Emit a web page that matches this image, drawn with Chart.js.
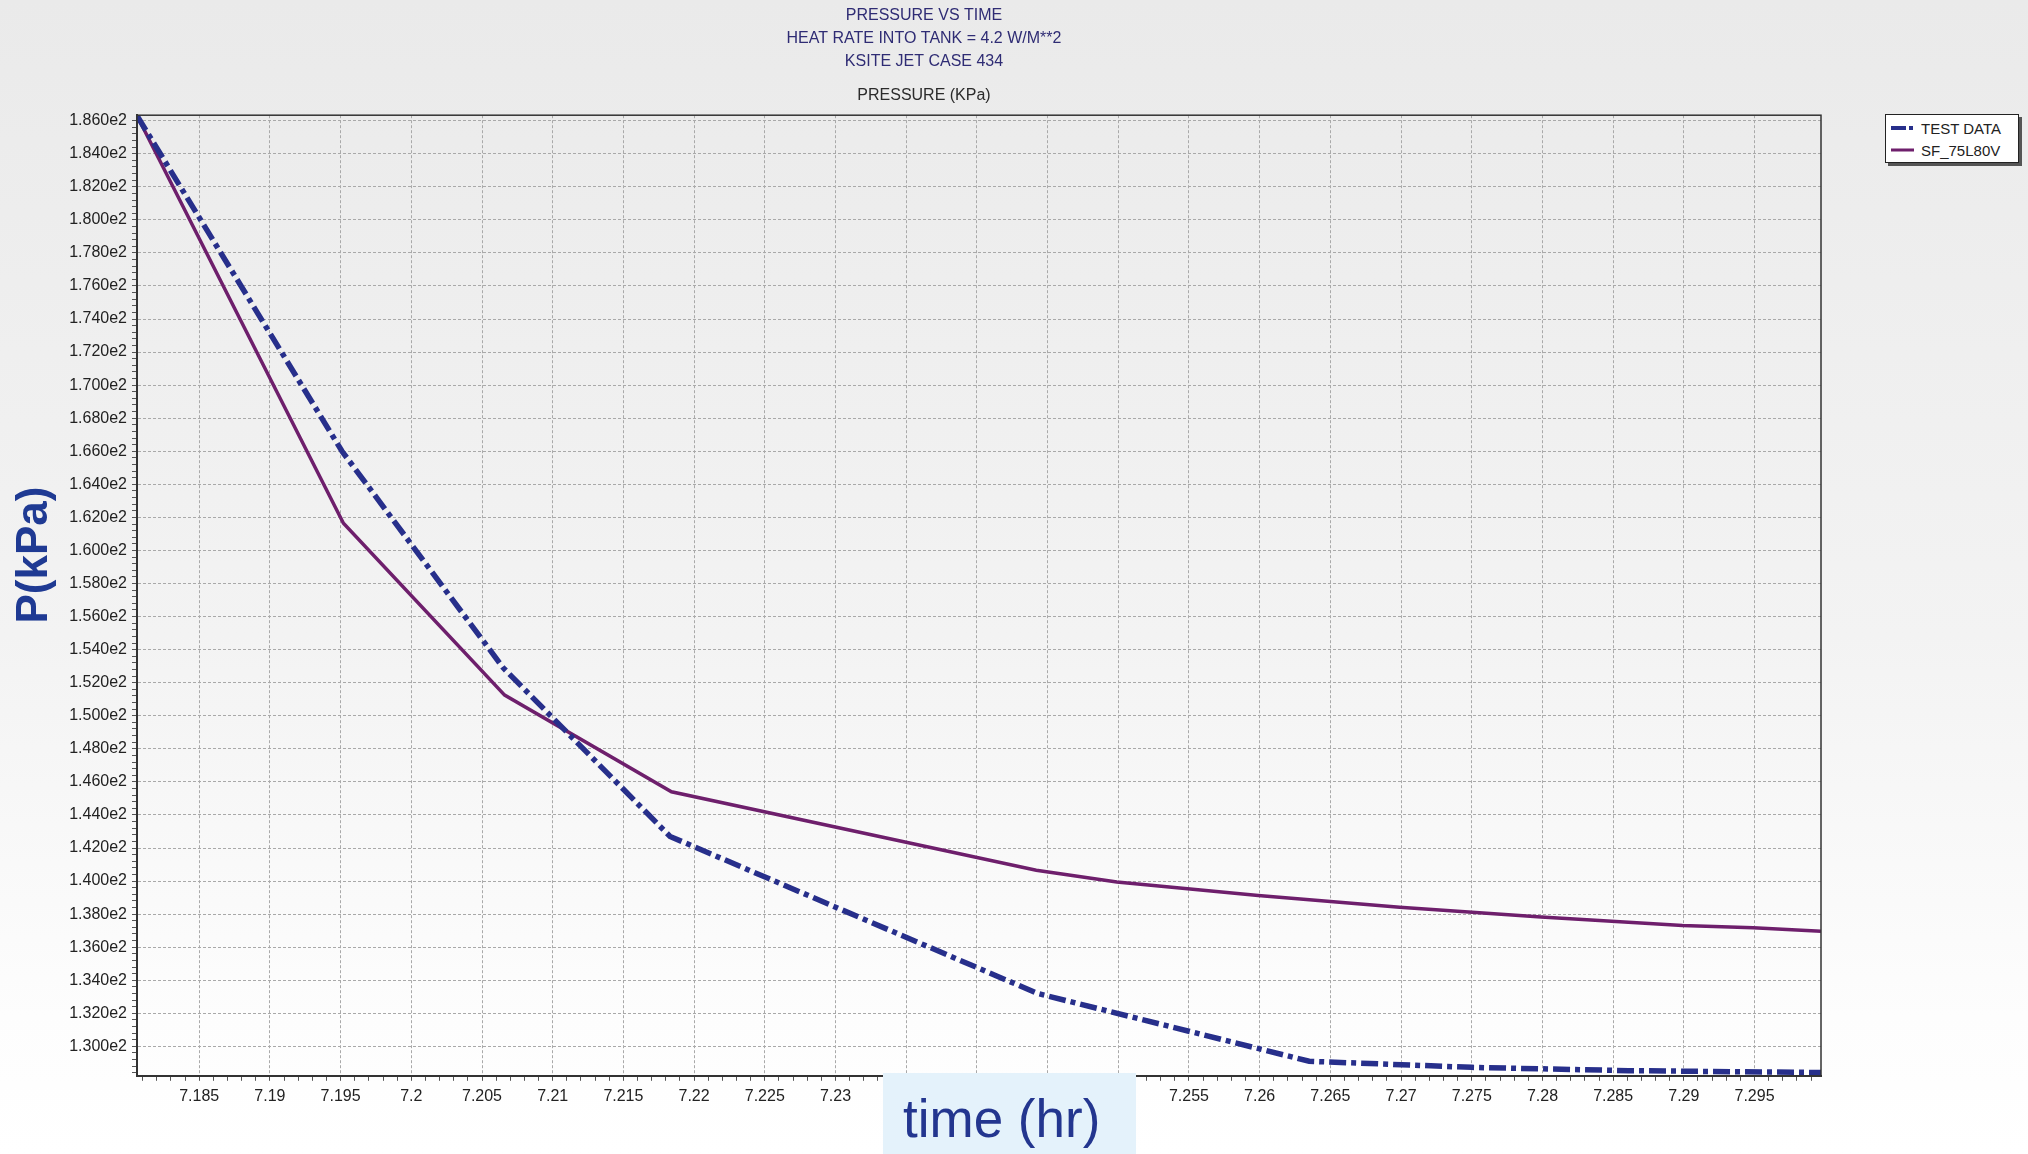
<!DOCTYPE html>
<html>
<head>
<meta charset="utf-8">
<script src="https://cdn.jsdelivr.net/npm/chart.js@4.4.0/dist/chart.umd.min.js"></script>
<style>
  html, body { margin: 0; padding: 0; }
  body {
    width: 2028px; height: 1154px; overflow: hidden; position: relative;
    background: linear-gradient(to bottom, #eaeaea 0%, #f3f3f3 55%, #fdfdfd 88%, #ffffff 100%);
  }
  #wrap { position: absolute; left: 27px; top: 0; width: 1818px; height: 1154px; }
  #legend {
    position: absolute; left: 1885px; top: 114px; width: 134px; height: 49px;
    background: #fff; border: 1px solid #222; box-shadow: 3px 3px 0 #555;
    font: 15px "Liberation Sans", Arial, sans-serif; color: #222; box-sizing: border-box;
    padding: 2px 0 0 5px;
  }
  #legend .row { height: 22px; display: flex; align-items: center; }
  #legend svg { margin-right: 6px; }
  #xlabel {
    position: absolute; left: 883px; top: 1073px; width: 253px; height: 81px;
    background: #e4f2fb; color: #23368f;
    font: 53px "Liberation Sans", Arial, sans-serif;
  }
  #xlabel span { position: absolute; left: 20px; top: 15px; }
  #ylabel {
    position: absolute; left: -63px; top: 525px; width: 200px; height: 60px;
    transform: rotate(-90deg); text-align: center; line-height: 60px;
    color: #1f3a93; font: bold 44px "Liberation Sans", Arial, sans-serif;
  }
</style>
</head>
<body>
<div id="wrap"><canvas id="myChart"></canvas></div>
<div id="legend">
  <div class="row"><svg width="24" height="8"><rect x="0" y="2" width="15" height="4" fill="#272f8b"/><rect x="18" y="2" width="4" height="4" fill="#272f8b"/></svg>TEST DATA</div>
  <div class="row"><svg width="24" height="8"><rect x="0" y="2.5" width="23" height="3" fill="#6e1f6c"/></svg>SF_75L80V</div>
</div>
<div id="xlabel"><span>time (hr)</span></div>
<div id="ylabel">P(kPa)</div>
<script>
// titles
const titleLines = ['PRESSURE VS TIME', 'HEAT RATE INTO TANK = 4.2 W/M**2', 'KSITE JET CASE 434'];
const subTitle = 'PRESSURE (KPa)';

// test data (time hr, pressure kPa)
const testTime = [7.1806, 7.1951, 7.2065, 7.2183, 7.2443, 7.2635, 7.2750, 7.2861, 7.2997];
const testPressure = [186.3, 166.0, 152.9, 142.7, 133.2, 129.1, 128.73, 128.53, 128.42];

// model SF_75L80V
const sfTime = [7.1806, 7.1952, 7.2066, 7.2184, 7.2442, 7.2499, 7.2599, 7.2699, 7.2799, 7.2899, 7.2949, 7.2997];
const sfPressure = [186.3, 161.65, 151.25, 145.4, 140.65, 139.94, 139.13, 138.42, 137.82, 137.31, 137.17, 136.97];

// axis ranges
const xMin = 7.1806, xMax = 7.2997;
const yMin = 128.22, yMax = 186.33;

const toPoints = (xs, ys) => xs.map((x, i) => ({ x: x, y: ys[i] }));

const isMult = (v, step) => Math.abs(v / step - Math.round(v / step)) < 1e-6;

// full box round the plot
const frame = {
  id: 'frame',
  afterDraw(chart) {
    const a = chart.chartArea, c = chart.ctx;
    c.save();
    c.strokeStyle = '#333';
    c.lineWidth = 1.5;
    c.strokeRect(a.left, a.top, a.right - a.left, a.bottom - a.top);
    c.restore();
  }
};

const tickFont = { family: 'Liberation Sans', size: 16 };
const titleFont = { family: 'Liberation Sans', size: 16, weight: 'normal' };

new Chart('myChart', {
  type: 'line',
  data: {
    datasets: [
      {
        label: 'TEST DATA',
        data: toPoints(testTime, testPressure),
        borderColor: '#272f8b',
        backgroundColor: '#272f8b',
        borderWidth: 5.5,
        borderDash: [17, 5, 5, 5],
        pointRadius: 0,
        tension: 0,
        fill: false
      },
      {
        label: 'SF_75L80V',
        data: toPoints(sfTime, sfPressure),
        borderColor: '#6e1f6c',
        backgroundColor: '#6e1f6c',
        borderWidth: 3.5,
        pointRadius: 0,
        tension: 0,
        fill: false
      }
    ]
  },
  options: {
    responsive: true,
    maintainAspectRatio: false,
    animation: false,
    layout: { padding: { left: 0, right: 24, top: 0, bottom: 42 } },
    plugins: {
      legend: { display: false },
      tooltip: { enabled: false },
      title: {
        display: true,
        text: titleLines,
        color: '#2f2c74',
        font: Object.assign({ lineHeight: 23 / 16 }, titleFont),
        padding: { top: 4, bottom: 13 }
      },
      subtitle: {
        display: true,
        text: subTitle,
        color: '#2b2b2b',
        font: Object.assign({ lineHeight: 1.2 }, titleFont),
        padding: { top: 0, bottom: 10 }
      }
    },
    scales: {
      x: {
        type: 'linear',
        min: xMin,
        max: xMax,
        grid: {
          color: (ctx) => (ctx.tick && isMult(ctx.tick.value, 0.005)) ? '#a9a9a9' : 'rgba(0,0,0,0)',
          tickColor: '#555',
          tickLength: 5,
          lineWidth: 1
        },
        border: { color: '#333', width: 2, dash: [3, 2] },
        ticks: {
          stepSize: 0.001,
          includeBounds: false,
          autoSkip: false,
          maxRotation: 0,
          minRotation: 0,
          padding: 6,
          color: '#222',
          font: tickFont,
          callback: (v) => isMult(v, 0.005) ? String(Number(v.toFixed(3))) : ''
        }
      },
      y: {
        type: 'linear',
        min: yMin,
        max: yMax,
        afterFit: (scale) => { scale.width = 110; },
        grid: {
          color: (ctx) => (ctx.tick && isMult(ctx.tick.value, 2)) ? '#a9a9a9' : 'rgba(0,0,0,0)',
          tickColor: '#555',
          tickLength: 5,
          lineWidth: 1
        },
        border: { color: '#333', width: 2, dash: [3, 2] },
        ticks: {
          stepSize: 0.4,
          includeBounds: false,
          autoSkip: false,
          padding: 5,
          color: '#222',
          font: tickFont,
          callback: (v) => isMult(v, 2) ? (v / 100).toFixed(3) + 'e2' : ''
        }
      }
    }
  },
  plugins: [frame]
});
</script>
</body>
</html>
